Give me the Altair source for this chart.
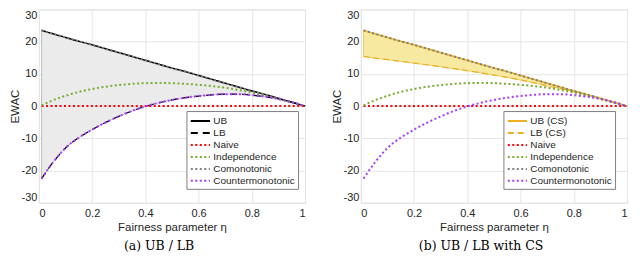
import altair as alt
import pandas as pd

# ---------------- data ----------------
eta = [0.01, 0.05, 0.10, 0.15, 0.20, 0.25, 0.30, 0.35, 0.40, 0.45, 0.50,
       0.55, 0.60, 0.65, 0.70, 0.75, 0.80, 0.85, 0.90, 0.95, 1.00]

ub = [23.5, 22.5, 21.3, 20.1, 19.0, 17.8, 16.6, 15.4, 14.2, 13.0, 11.8,
      10.7, 9.5, 8.3, 7.1, 5.9, 4.7, 3.6, 2.4, 1.2, 0.0]

lb_cs = [15.4, 14.9, 14.4, 13.9, 13.3, 12.8, 12.2, 11.6, 11.0, 10.3, 9.6,
         8.9, 8.1, 7.2, 6.3, 5.4, 4.5, 3.5, 2.3, 1.2, 0.0]

naive = [0.0, 0.0, 0.0, 0.0, 0.0, 0.0, 0.0, 0.0, 0.0, 0.0, 0.0,
         0.0, 0.0, 0.0, 0.0, 0.0, 0.0, 0.0, 0.0, 0.0, 0.0]

independence = [0.2, 1.7, 3.2, 4.4, 5.3, 6.0, 6.5, 6.9, 7.1, 7.2, 7.1,
                6.9, 6.6, 6.2, 5.7, 5.0, 4.2, 3.2, 2.2, 1.1, 0.0]

countermonotonic = [-22.5, -17.8, -13.0, -9.8, -7.3, -5.1, -3.2, -1.5, -0.1, 1.0, 1.9,
                    2.6, 3.1, 3.5, 3.7, 3.7, 3.4, 2.9, 2.2, 1.2, 0.0]

names_a = ["UB", "LB", "Naive", "Independence", "Comonotonic", "Countermonotonic"]
names_b = ["UB (CS)", "LB (CS)", "Naive", "Independence", "Comonotonic", "Countermonotonic"]

colors_a = ["#000000", "#000000", "#ff0000", "#77ac30", "#808080", "#a83cff"]
colors_b = ["#edb120", "#edb120", "#ff0000", "#77ac30", "#808080", "#a83cff"]

dashes = [[1, 0], [7, 5], [2, 2.5], [2, 2.5], [2, 2.5], [2, 2.5]]
dashes_b = [[1, 0], [6, 4], [2, 2.5], [2, 2.5], [2, 2.5], [2, 2.5]]
widths = [1.5, 1.2, 2, 2, 2, 2]

FONT = "Liberation Sans"
TXT = "#262626"


def long_df(names, series):
    rows = []
    for n, vals in zip(names, series):
        for xv, v in zip(eta, vals):
            rows.append({"eta": xv, "val": v, "series": n})
    return pd.DataFrame(rows)


x_axis = alt.Axis(values=[0, 0.2, 0.4, 0.6, 0.8, 1], labelExpr="'' + datum.value",
                  title="Fairness parameter η", grid=True, domain=False, ticks=False,
                  labelPadding=5, titlePadding=3, labelFontSize=11, titleFontSize=11.5,
                  titleFontWeight="normal", labelFont=FONT, titleFont=FONT,
                  labelColor=TXT, titleColor=TXT, gridColor="#e6e6e6")
y_axis = alt.Axis(values=[-30, -20, -10, 0, 10, 20, 30], labelExpr="'' + datum.value",
                  title="EWAC", grid=True, domain=False, ticks=False, labelFlush=True,
                  labelPadding=2, titlePadding=1, labelFontSize=11, titleFontSize=11.5,
                  titleFontWeight="normal", labelFont=FONT, titleFont=FONT,
                  labelColor=TXT, titleColor=TXT, gridColor="#e6e6e6")

xs = alt.Scale(domain=[0, 1], nice=False)
ys = alt.Scale(domain=[-30, 30], nice=False)


def panel(names, series, colors, dash, upper, lower, fill, edge, caption, width, lx):
    df = long_df(names, series)
    band = pd.DataFrame({"eta": eta, "upper": upper, "lower": lower})
    legend = alt.Legend(orient="none", legendX=lx, legendY=102, title=None,
                        direction="vertical", columns=1,
                        symbolType="M-1.6,0H1.6", symbolSize=144, symbolStrokeWidth=2,
                        labelFontSize=10, labelFont=FONT, labelColor=TXT,
                        labelOffset=6, symbolOffset=4,
                        strokeColor="#808080", fillColor="white", padding=3,
                        rowPadding=0)
    area = alt.Chart(band).mark_area(color=fill, stroke=edge, strokeWidth=0.8,
                                     opacity=1, interpolate="monotone").encode(
        x=alt.X("eta:Q", scale=xs, axis=x_axis),
        y=alt.Y("upper:Q", scale=ys, axis=y_axis),
        y2="lower:Q",
    )
    layers = [area]
    for n, w in zip(names, widths):
        layers.append(
            alt.Chart(df).transform_filter(alt.datum.series == n)
            .mark_line(strokeWidth=w, interpolate="monotone")
            .encode(
                x=alt.X("eta:Q", scale=xs, axis=x_axis),
                y=alt.Y("val:Q", scale=ys, axis=y_axis),
                color=alt.Color("series:N", scale=alt.Scale(domain=names, range=colors),
                                legend=legend),
                strokeDash=alt.StrokeDash("series:N", scale=alt.Scale(domain=names, range=dash),
                                          legend=legend),
            )
        )
    return alt.layer(*layers).properties(
        width=width, height=194,
        title=alt.TitleParams(caption, orient="bottom", anchor="middle", frame="bounds",
                              font="DejaVu Serif", fontSize=12.5, fontWeight="normal",
                              color="black", offset=7),
    )


left = panel(names_a, [ub, countermonotonic, naive, independence, ub, countermonotonic],
             colors_a, dashes, ub, countermonotonic, "#ebebeb", "#b0b0b0",
             "(a) UB / LB", 267, 148)
right = panel(names_b, [ub, lb_cs, naive, independence, ub, countermonotonic],
              colors_b, dashes_b, ub, lb_cs, "#f8e9a1", "#e3c158",
              "(b) UB / LB with CS", 267, 143)

chart = alt.hconcat(left, right, spacing=20).resolve_scale(
    color="independent", strokeDash="independent"
).properties(padding=0).configure_view(
    stroke="#8c8c8c", strokeWidth=1
).configure(background="white")

chart.save("out.html", embed_options={"renderer": "svg", "actions": False})
